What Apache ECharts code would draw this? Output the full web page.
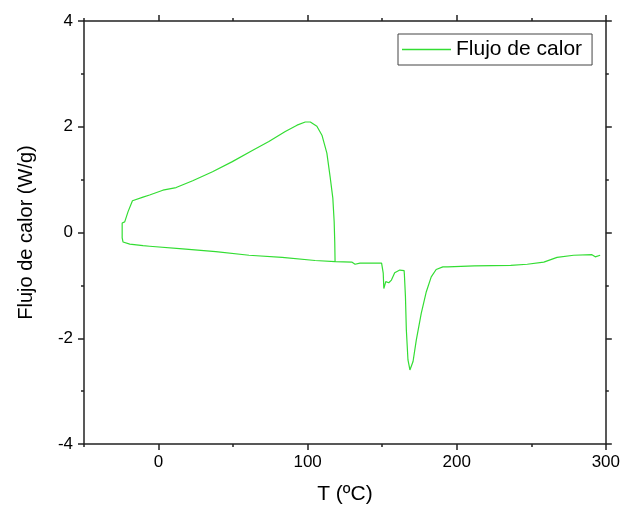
<!DOCTYPE html>
<html>
<head>
<meta charset="utf-8">
<script src="https://cdn.jsdelivr.net/npm/echarts@6/dist/echarts.min.js"></script>
<style>
html, body { margin: 0; padding: 0; background: #fff; }
#main { width: 623px; height: 510px; }
</style>
</head>
<body>
<div id="main"></div>
<script>
// datos (T en ºC, flujo en W/g), en orden de trazado
var tempC = [
    296.2, 292.9, 290.7, 278.4, 267.3, 258.4, 247.3, 236.2, 211.8, 194.0,
    190.7, 186.2, 182.9, 179.6, 176.2, 172.9, 170.7, 168.6, 167.3, 166.2,
    165.6, 164.9, 164.7, 161.8, 158.4, 156.2, 154.4, 152.4, 151.1, 150.7,
    149.6, 135.1, 131.8, 129.6, 118.4,
    118.2, 117.8, 116.9, 115.1, 112.9, 109.6, 106.2, 101.8, 98.4, 92.9,
    85.0, 74.0, 62.9, 49.5, 36.2, 22.9, 11.8, 2.9, -6.0, -10.4,
    -17.5, -20.5, -22.7, -24.4, -24.4, -23.8, -22.7, -19.3, -10.4, -6.0,
    16.2, 38.4, 60.7, 82.9, 105.0, 118.4
];
var flujo = [
    -0.43, -0.46, -0.42, -0.43, -0.47, -0.56, -0.60, -0.62, -0.63, -0.65,
    -0.65, -0.70, -0.84, -1.12, -1.53, -2.03, -2.44, -2.60, -2.41, -1.84,
    -1.21, -0.80, -0.72, -0.71, -0.76, -0.90, -0.95, -0.93, -1.06, -0.77,
    -0.58, -0.58, -0.60, -0.56, -0.55,
    -0.20, 0.20, 0.65, 1.05, 1.50, 1.84, 2.01, 2.09, 2.09, 2.03,
    1.91, 1.72, 1.55, 1.34, 1.15, 0.98, 0.85, 0.80, 0.71, 0.67,
    0.60, 0.39, 0.20, 0.18, -0.10, -0.18, -0.20, -0.22, -0.25, -0.26,
    -0.31, -0.36, -0.43, -0.47, -0.53, -0.55
];
var xMajor = [0, 100, 200, 300];
var xMinor = [-50, 50, 150, 250];
var yMajor = [-4, -2, 0, 2, 4];
var yMinor = [-3, -1, 1, 3];

var serie = [];
for (var i = 0; i < tempC.length; i++) {
    serie.push([tempC[i], flujo[i]]);
}

var fuente = 'Liberation Sans';
var ejeColor = '#222';
var verde = '#33dd33';

function ejeX(pos, ticks, len, conEtiquetas, conLinea) {
    return {
        type: 'value',
        position: pos,
        min: -50,
        max: 300,
        axisLine: { show: conLinea, onZero: false, lineStyle: { color: ejeColor, width: 1.5 } },
        axisTick: { show: true, customValues: ticks, length: len, lineStyle: { color: ejeColor, width: 1.5 } },
        axisLabel: { show: conEtiquetas, customValues: ticks, fontSize: 17, color: '#000', fontFamily: fuente, margin: 10 },
        splitLine: { show: false }
    };
}

function ejeY(pos, ticks, len, conEtiquetas, conLinea) {
    return {
        type: 'value',
        position: pos,
        min: -4,
        max: 4,
        axisLine: { show: conLinea, onZero: false, lineStyle: { color: ejeColor, width: 1.5 } },
        axisTick: { show: true, customValues: ticks, length: len, lineStyle: { color: ejeColor, width: 1.5 } },
        axisLabel: { show: conEtiquetas, customValues: ticks, fontSize: 17, color: '#000', fontFamily: fuente, margin: 11 },
        splitLine: { show: false }
    };
}

var xPrincipal = ejeX('bottom', xMajor, 6, true, true);
xPrincipal.name = 'T (ºC)';
xPrincipal.nameLocation = 'middle';
xPrincipal.nameGap = 40;
xPrincipal.nameTextStyle = { fontSize: 21, color: '#000', fontFamily: fuente };

var yPrincipal = ejeY('left', yMajor, 6, true, true);
yPrincipal.name = 'Flujo de calor (W/g)';
yPrincipal.nameLocation = 'middle';
yPrincipal.nameGap = 48;
yPrincipal.nameTextStyle = { fontSize: 20, color: '#000', fontFamily: fuente };

var myChart = echarts.init(document.getElementById('main'));
option = {
    backgroundColor: '#fff',
    animation: false,
    grid: {
        left: 84,
        right: 14,
        top: 21,
        bottom: 66,
        containLabel: false
    },
    legend: {
        left: 398,
        top: 34,
        padding: [5, 10, 5, 4],
        itemWidth: 49,
        itemHeight: 1.5,
        borderColor: '#444',
        borderWidth: 1,
        textStyle: { fontSize: 21, color: '#000', fontFamily: fuente },
        data: [{ name: 'Flujo de calor', icon: 'rect' }]
    },
    xAxis: [
        xPrincipal,
        ejeX('bottom', xMinor, 3, false, false),
        ejeX('top', xMajor, 6, false, true),
        ejeX('top', xMinor, 3, false, false)
    ],
    yAxis: [
        yPrincipal,
        ejeY('left', yMinor, 3, false, false),
        ejeY('right', yMajor, 6, false, true),
        ejeY('right', yMinor, 3, false, false)
    ],
    series: [
        {
            name: 'Flujo de calor',
            type: 'line',
            xAxisIndex: 0,
            yAxisIndex: 0,
            symbol: 'none',
            smooth: false,
            lineStyle: { color: verde, width: 1.2 },
            itemStyle: { color: verde },
            data: serie
        }
    ]
};
myChart.setOption(option);
</script>
</body>
</html>
